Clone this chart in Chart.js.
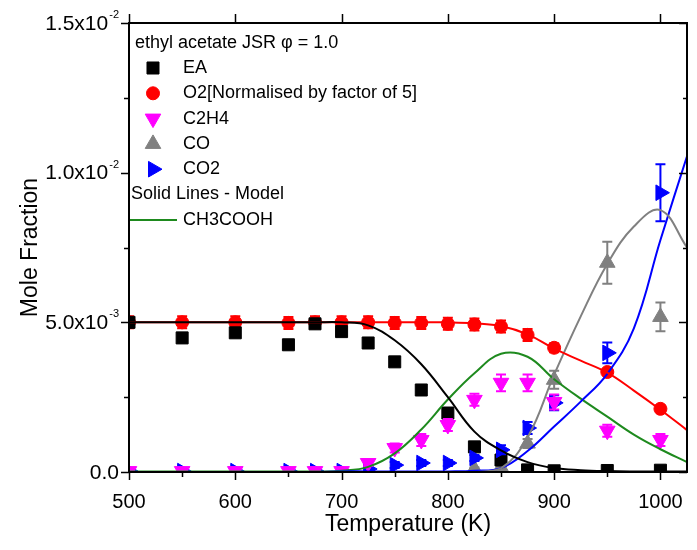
<!DOCTYPE html>
<html>
<head>
<meta charset="utf-8">
<script src="https://cdn.jsdelivr.net/npm/chart.js@4.4.1/dist/chart.umd.min.js"></script>
<style>
body { margin: 0; background: #fff; }
canvas { display: block; }
</style>
</head>
<body>
<canvas id="chart" width="697" height="550"></canvas>
<script>
// measured temperatures (K)
var temps = [500, 550, 600, 650, 675, 700, 725, 750, 775, 800, 825, 850, 875, 900, 950, 1000];

// measured mole fractions, in units of 1e-3
var eaVals  = [5.00, 4.48, 4.65, 4.25, 4.95, 4.69, 4.31, 3.68, 2.74, 1.97, 0.84, 0.40, 0.07, 0.04, 0.05, 0.06];
var eaErr   = [0.10, 0.15, 0.12, 0.12, 0.12, 0.12, 0.10, 0.08, 0.08, 0.06, 0.06, 0.05, 0.02, 0.02, 0.02, 0.02];
var o2Vals  = [5.00, 5.00, 5.00, 4.98, 5.00, 5.00, 5.00, 4.98, 4.98, 4.95, 4.93, 4.86, 4.58, 4.15, 3.34, 2.11];
var o2Err   = [0.20, 0.20, 0.20, 0.20, 0.20, 0.20, 0.20, 0.20, 0.20, 0.20, 0.20, 0.20, 0.20, 0.15, 0.10, 0.10];
var c2h4Vals = [0.03, 0.03, 0.03, 0.03, 0.03, 0.03, 0.30, 0.80, 1.07, 1.57, 2.41, 2.98, 2.98, 2.34, 1.38, 1.07];
var c2h4Err  = [0.03, 0.03, 0.03, 0.03, 0.03, 0.03, 0.10, 0.15, 0.20, 0.20, 0.20, 0.28, 0.28, 0.25, 0.20, 0.20];
var coVals  = [null, null, null, null, null, null, null, null, null, null, 0.10, 0.15, 0.95, 3.08, 6.99, 5.18];
var coErr   = [0, 0, 0, 0, 0, 0, 0, 0, 0, 0, 0.05, 0.08, 0.15, 0.30, 0.70, 0.48];
var co2Vals = [0.03, 0.03, 0.03, 0.03, 0.03, 0.03, 0.10, 0.23, 0.30, 0.30, 0.47, 0.74, 1.47, 2.31, 3.98, 9.33];
var co2Err  = [0.03, 0.03, 0.03, 0.03, 0.03, 0.03, 0.10, 0.10, 0.10, 0.10, 0.10, 0.15, 0.20, 0.25, 0.35, 0.95];

// model curves (solid lines), same units
var modelTemps = [500, 525, 550, 575, 600, 625, 650, 675, 700, 725, 750, 775, 800, 825, 850, 875, 900, 925, 950, 975, 1000, 1025];
var eaModel    = [5.00, 5.00, 5.00, 5.00, 5.00, 5.00, 5.00, 5.00, 5.00, 4.90, 4.40, 3.60, 2.50, 1.35, 0.72, 0.33, 0.13, 0.06, 0.03, 0.02, 0.02, 0.02];
var o2Model    = [5.00, 5.00, 5.00, 5.00, 5.00, 5.00, 5.00, 5.00, 5.00, 5.00, 5.00, 5.00, 5.00, 4.97, 4.88, 4.60, 4.12, 3.72, 3.32, 2.72, 2.08, 1.40];
var coModel    = [0, 0, 0, 0, 0, 0, 0, 0, 0, 0, 0, 0, 0, 0.00, 0.12, 1.15, 3.25, 5.20, 6.95, 8.20, 8.75, 7.50];
var co2Model   = [0, 0, 0, 0, 0, 0, 0, 0, 0.02, 0.02, 0.02, 0.02, 0.02, 0.04, 0.13, 0.70, 1.52, 2.35, 3.28, 4.80, 7.75, 10.55];
var ch3coohModel = [0.02, 0.02, 0.02, 0.02, 0.02, 0.02, 0.02, 0.02, 0.04, 0.17, 0.62, 1.42, 2.42, 3.30, 3.95, 3.85, 3.10, 2.45, 1.85, 1.25, 0.76, 0.33];

var xTicks = [500, 600, 700, 800, 900, 1000];
var xMinor = [550, 650, 750, 850, 950];
var yTicks = [0, 5, 10, 15];
var yMinor = [2.5, 7.5, 12.5];
var yTickLabels = [['0.0', ''], ['5.0x10', '-3'], ['1.0x10', '-2'], ['1.5x10', '-2']];

var FONT = '"Liberation Sans", Arial, Helvetica, sans-serif';
var UNIT = 1e-3;

function pts(xs, ys) {
    var out = [];
    for (var i = 0; i < xs.length; i++) {
        if (ys[i] === null) continue;
        out.push({x: xs[i], y: ys[i] * UNIT});
    }
    return out;
}
function errs(ys, es) {
    var out = [];
    for (var i = 0; i < ys.length; i++) {
        if (ys[i] === null) continue;
        out.push(es[i] * UNIT);
    }
    return out;
}

function markerSet(label, ys, es, color, style, radius, rot, order) {
    return {
        label: label,
        data: pts(temps, ys),
        errors: errs(ys, es),
        showLine: false,
        pointStyle: style,
        pointRadius: radius,
        pointRotation: rot,
        backgroundColor: color,
        borderColor: color,
        pointBorderWidth: 1,
        clip: 0,
        order: order
    };
}
function modelSet(label, ys, color) {
    return {
        label: label,
        data: pts(modelTemps, ys),
        showLine: true,
        pointRadius: 0,
        borderColor: color,
        borderWidth: 2,
        fill: false,
        tension: 0.4,
        clip: {left: 0, top: 0, right: 0, bottom: 1},
        order: 0
    };
}

var markerStyles = [
    {label: 'EA', color: '#000000', style: 'rect', radius: 8.5, rot: 0},
    {label: 'O2[Normalised by factor of 5]', color: '#ff0000', style: 'circle', radius: 6.5, rot: 0},
    {label: 'C2H4', color: '#ff00ff', style: 'triangle', radius: 9, rot: 180},
    {label: 'CO', color: '#808080', style: 'triangle', radius: 9, rot: 0},
    {label: 'CO2', color: '#0000ff', style: 'triangle', radius: 9, rot: 90}
];

// error bars, drawn right after each marker set
var errorBars = {
    id: 'errorBars',
    afterDatasetDraw: function(chart, args) {
        var ds = chart.data.datasets[args.index];
        if (!ds.errors) return;
        var ctx = chart.ctx, area = chart.chartArea, ys = chart.scales.y;
        ctx.save();
        ctx.beginPath();
        ctx.rect(area.left, area.top, area.right - area.left, area.bottom - area.top);
        ctx.clip();
        ctx.strokeStyle = ds.borderColor;
        ctx.lineWidth = 2;
        args.meta.data.forEach(function(pt, i) {
            var v = ds.data[i].y, e = ds.errors[i];
            var y1 = ys.getPixelForValue(v + e), y2 = ys.getPixelForValue(v - e);
            ctx.beginPath();
            ctx.moveTo(pt.x, y1); ctx.lineTo(pt.x, y2);
            ctx.moveTo(pt.x - 5, y1); ctx.lineTo(pt.x + 5, y1);
            ctx.moveTo(pt.x - 5, y2); ctx.lineTo(pt.x + 5, y2);
            ctx.stroke();
        });
        ctx.restore();
    }
};

// box frame, tick marks, y labels with exponents, legend
var frame = {
    id: 'frame',
    afterDraw: function(chart) {
        var ctx = chart.ctx, a = chart.chartArea, xs = chart.scales.x, ys = chart.scales.y;
        ctx.save();
        ctx.strokeStyle = '#000';
        ctx.lineWidth = 2;
        ctx.strokeRect(a.left, a.top, a.right - a.left, a.bottom - a.top);
        ctx.lineWidth = 1.5;
        ctx.beginPath();
        xTicks.forEach(function(t) {
            var x = Math.round(xs.getPixelForValue(t)) + 0.5;
            ctx.moveTo(x, a.bottom); ctx.lineTo(x, a.bottom + 8);
            ctx.moveTo(x, a.top); ctx.lineTo(x, a.top - 9);
        });
        xMinor.forEach(function(t) {
            var x = Math.round(xs.getPixelForValue(t)) + 0.5;
            ctx.moveTo(x, a.bottom); ctx.lineTo(x, a.bottom + 5);
        });
        yTicks.forEach(function(t) {
            var y = Math.round(ys.getPixelForValue(t * UNIT)) + 0.5;
            ctx.moveTo(a.left, y); ctx.lineTo(a.left - 8, y);
            ctx.moveTo(a.right, y); ctx.lineTo(a.right - 8, y);
        });
        yMinor.forEach(function(t) {
            var y = Math.round(ys.getPixelForValue(t * UNIT)) + 0.5;
            ctx.moveTo(a.left, y); ctx.lineTo(a.left - 5, y);
            ctx.moveTo(a.right, y); ctx.lineTo(a.right - 4, y);
        });
        ctx.stroke();

        // y tick labels
        ctx.fillStyle = '#000';
        ctx.textBaseline = 'middle';
        yTicks.forEach(function(t, i) {
            var y = ys.getPixelForValue(t * UNIT) + 1;
            var base = yTickLabels[i][0], sup = yTickLabels[i][1];
            var right = a.left - 10;
            ctx.font = '11px ' + FONT;
            var sw = sup ? ctx.measureText(sup).width + 1 : 0;
            ctx.textAlign = 'left';
            if (sup) ctx.fillText(sup, right - sw + 1, y - 9);
            ctx.font = '21px ' + FONT;
            ctx.textAlign = 'right';
            ctx.fillText(base, right - sw, y);
        });

        // legend
        ctx.textAlign = 'left';
        ctx.font = '18px ' + FONT;
        ctx.fillText('ethyl acetate JSR \u03c6 = 1.0', a.left + 6, 43);
        markerStyles.forEach(function(m, i) {
            var y = 68 + i * 25.3;
            ctx.fillStyle = m.color;
            ctx.strokeStyle = m.color;
            ctx.lineWidth = 1;
            Chart.helpers.drawPoint(ctx, {pointStyle: m.style, radius: m.radius, rotation: m.rot, borderWidth: 1}, a.left + 24, y);
            ctx.fillStyle = '#000';
            ctx.fillText(m.label, a.left + 54, y);
        });
        ctx.fillText('Solid Lines - Model', a.left + 2, 194);
        ctx.strokeStyle = '#1e8a1e';
        ctx.lineWidth = 2;
        ctx.beginPath();
        ctx.moveTo(a.left + 1, 220); ctx.lineTo(a.left + 48, 220);
        ctx.stroke();
        ctx.fillText('CH3COOH', a.left + 54, 220);
        ctx.restore();
    }
};

var datasets = [
    modelSet('EA model', eaModel, '#000000'),
    modelSet('O2 model', o2Model, '#ff0000'),
    modelSet('CO model', coModel, '#808080'),
    modelSet('CO2 model', co2Model, '#0000ff'),
    modelSet('CH3COOH', ch3coohModel, '#1e8a1e'),
    markerSet('CO', coVals, coErr, '#808080', 'triangle', 9, 0, 6),
    markerSet('O2', o2Vals, o2Err, '#ff0000', 'circle', 6.5, 0, 5),
    markerSet('EA', eaVals, eaErr, '#000000', 'rect', 8.5, 0, 4),
    markerSet('CO2', co2Vals, co2Err, '#0000ff', 'triangle', 9, 90, 3),
    markerSet('C2H4', c2h4Vals, c2h4Err, '#ff00ff', 'triangle', 9, 180, 2)
];

var ctx = document.getElementById('chart').getContext('2d');
var chart = new Chart(ctx, {
    type: 'scatter',
    data: { datasets: datasets },
    options: {
        responsive: false,
        animation: false,
        devicePixelRatio: 1,
        layout: { padding: { left: 0, right: 10, top: 23, bottom: 0 } },
        plugins: { legend: { display: false }, tooltip: { enabled: false } },
        scales: {
            x: {
                type: 'linear', min: 500, max: 1025,
                afterBuildTicks: function(s) { s.ticks = xTicks.map(function(v) { return {value: v}; }); },
                afterFit: function(s) { s.height = 78; s.paddingLeft = 0; s.paddingRight = 0; },
                grid: { display: false, drawTicks: false },
                border: { display: false },
                ticks: { color: '#000', font: { size: 20, family: FONT }, padding: 18, maxRotation: 0, autoSkip: false,
                         callback: function(v) { return String(v); } },
                title: { display: true, text: 'Temperature (K)', color: '#000', font: { size: 23, family: FONT }, padding: { top: 0, bottom: 12 } }
            },
            y: {
                type: 'linear', min: 0, max: 15 * UNIT,
                afterFit: function(s) { s.width = 129; s.paddingTop = 0; s.paddingBottom = 0; },
                grid: { display: false, drawTicks: false },
                border: { display: false },
                ticks: { display: false },
                title: { display: true, text: 'Mole Fraction', color: '#000', font: { size: 23, family: FONT }, padding: { top: 17, bottom: 0 } }
            }
        }
    },
    plugins: [errorBars, frame]
});
</script>
</body>
</html>
